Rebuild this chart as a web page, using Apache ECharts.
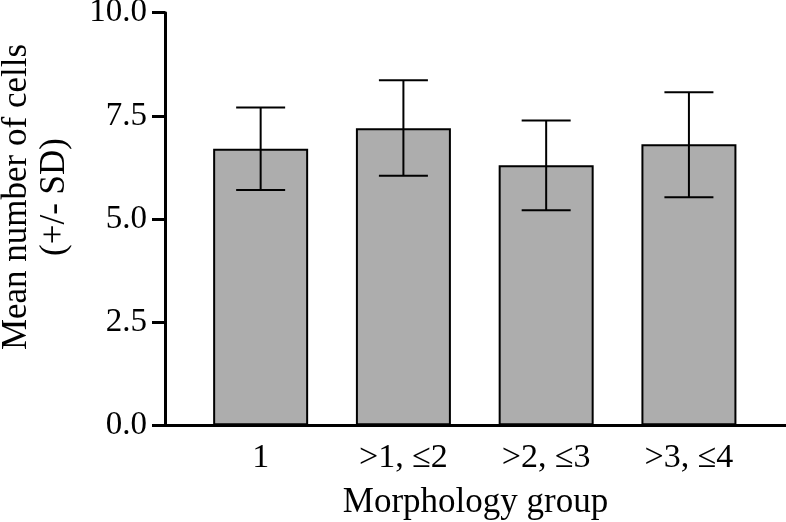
<!DOCTYPE html>
<html>
<head>
<meta charset="utf-8">
<style>
  html, body { margin: 0; padding: 0; background: #fff; }
  #chart { width: 786px; height: 522px; }
</style>
<script src="https://cdn.jsdelivr.net/npm/echarts@6/dist/echarts.min.js"></script>
</head>
<body>
<div id="chart"></div>
<script>
// groups and values
const categories = ['1', '>1, \u22642', '>2, \u22643', '>3, \u22644']
const means = [6.70, 7.20, 6.30, 6.81]
const sdLow = [5.70, 6.05, 5.21, 5.53]
const sdHigh = [7.70, 8.36, 7.39, 8.07]
const yTicks = [0, 2.5, 5, 7.5, 10]

const font = 'Liberation Serif'
const chart = echarts.init(document.getElementById('chart'))

chart.setOption({
  animation: false,
  grid: {
    left: 165,
    right: 0,
    top: 12.7,
    bottom: 96.7,
    outerBoundsMode: 'none'
  },
  xAxis: {
    type: 'value',
    min: -0.67,
    max: 3.68,
    name: 'Morphology group',
    nameLocation: 'middle',
    nameGap: 60,
    nameTextStyle: { fontFamily: font, fontSize: 35, color: '#000' },
    axisLine: { onZero: false, lineStyle: { color: '#000', width: 3 } },
    axisTick: { show: false },
    splitLine: { show: false },
    axisLabel: {
      customValues: [0, 1, 2, 3],
      formatter: v => categories[Math.round(v)],
      fontFamily: font,
      fontSize: 34,
      color: '#000',
      margin: 16
    }
  },
  yAxis: {
    type: 'value',
    min: yTicks[0],
    max: yTicks[yTicks.length - 1],
    interval: 2.5,
    axisLine: { show: true, onZero: false, lineStyle: { color: '#000', width: 3 } },
    axisTick: { show: true, length: 13, lineStyle: { color: '#000', width: 3 } },
    splitLine: { show: false },
    axisLabel: {
      formatter: v => v.toFixed(1),
      fontFamily: font,
      fontSize: 33,
      color: '#000',
      margin: 18
    }
  },
  graphic: [{
    type: 'text',
    x: 36,
    y: 197,
    rotation: Math.PI / 2,
    style: {
      text: 'Mean number of cells\n(+/- SD)',
      font: '35px "Liberation Serif"',
      fill: '#000',
      align: 'center',
      verticalAlign: 'middle',
      lineHeight: 38
    }
  }],
  series: [
    {
      type: 'bar',
      barWidth: 95,
      data: means.map((v, i) => [i, v]),
      itemStyle: { color: '#adadad', borderColor: '#000', borderWidth: 2 }
    },
    {
      type: 'custom',
      data: means.map((v, i) => [i, sdLow[i], sdHigh[i]]),
      renderItem(params, api) {
        const x = api.value(0)
        const lo = api.coord([x, api.value(1)])
        const hi = api.coord([x, api.value(2)])
        const half = 24.5
        const style = { stroke: '#000', lineWidth: 2 }
        return {
          type: 'group',
          children: [
            { type: 'line', shape: { x1: lo[0], y1: lo[1], x2: hi[0], y2: hi[1] }, style },
            { type: 'line', shape: { x1: hi[0] - half, y1: hi[1], x2: hi[0] + half, y2: hi[1] }, style },
            { type: 'line', shape: { x1: lo[0] - half, y1: lo[1], x2: lo[0] + half, y2: lo[1] }, style }
          ]
        }
      },
      z: 3
    }
  ]
})
</script>
</body>
</html>
